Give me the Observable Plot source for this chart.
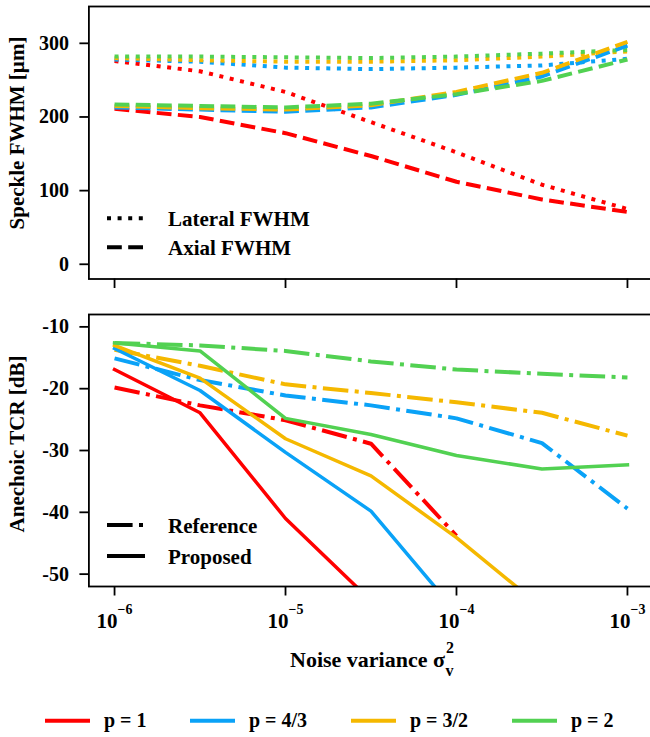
<!DOCTYPE html>
<html><head><meta charset="utf-8">
<script src="https://cdn.jsdelivr.net/npm/d3@7"></script>
<script src="https://cdn.jsdelivr.net/npm/@observablehq/plot@0.6"></script>
<style>
body{margin:0;background:#fff;}
#wrap{position:relative;width:650px;height:737px;overflow:hidden;background:#fff;}
#wrap svg{position:absolute;left:0;max-width:none !important;}
</style></head><body><div id="wrap"></div>
<script>
// ---- data ----
const noise = [1e-6, 3.162e-6, 1e-5, 3.162e-5, 1e-4, 3.162e-4, 1e-3];
const pLabels = ["p = 1", "p = 4/3", "p = 3/2", "p = 2"];
const colors = ["#ff0000", "#0aa2f7", "#f5b800", "#52d152"];
const xTicks = [1e-6, 1e-5, 1e-4, 1e-3];
const fwhmTicks = [0, 100, 200, 300];
const tcrTicks = [-10, -20, -30, -40, -50];

// Lateral FWHM [µm]
const lateral_p1  = [276, 262, 234, 193, 152, 108, 75];
const lateral_p43 = [278, 275, 267, 265, 267, 270, 279];
const lateral_p32 = [280, 277, 275, 275, 277, 282, 289];
const lateral_p2  = [282, 282, 281, 280, 282, 286, 291];
// Axial FWHM [µm]
const axial_p1  = [211, 200, 178, 147, 112, 88, 71];
const axial_p43 = [213, 210, 207, 213, 230, 255, 297];
const axial_p32 = [215, 212, 210, 216, 234, 260, 302];
const axial_p2  = [217, 215, 213, 218, 231, 249, 278];
// Anechoic TCR [dB] - Reference
const ref_p1  = [-19.8, -22.7, -25.1, -28.9, -43.8];
const ref_p43 = [-15.1, -18.6, -21.1, -22.7, -24.8, -28.8, -39.4];
const ref_p32 = [-13.7, -16.3, -19.3, -20.7, -22.2, -23.9, -27.6];
const ref_p2  = [-12.6, -13.0, -13.9, -15.6, -16.9, -17.6, -18.2];
// Anechoic TCR [dB] - Proposed
const prop_p1  = [-16.9, -23.9, -41.0, -54.3];
const prop_p43 = [-13.5, -20.3, -30.3, -39.8, -56.2];
const prop_p32 = [-13.0, -18.3, -28.1, -34.1, -44.1, -55.4];
const prop_p2  = [-12.6, -13.9, -24.8, -27.4, -30.8, -33.0, -32.3];

function rows(seriesList) {
  const out = [];
  seriesList.forEach((vals, i) => vals.forEach((v, j) => out.push({x: noise[j], y: v, p: pLabels[i]})));
  return out;
}
const lateralRows = rows([lateral_p1, lateral_p43, lateral_p32, lateral_p2]);
const axialRows = rows([axial_p1, axial_p43, axial_p32, axial_p2]);
const refRows = rows([ref_p1, ref_p43, ref_p32, ref_p2]);
const propRows = rows([prop_p1, prop_p43, prop_p32, prop_p2]);

const FONT = '"Liberation Serif","Times New Roman",serif';
const common = {
  width: 660, marginLeft: 88.4, marginRight: 7.4,
  x: {type: "log", domain: [10 ** -6.15, 10 ** -2.85]},
  color: {domain: pLabels, range: colors},
  style: {fontFamily: FONT, fontWeight: "bold", fontSize: "20px", background: "transparent", color: "black", maxWidth: "none"}
};
const ns = "http://www.w3.org/2000/svg";
const wrap = document.getElementById("wrap");

const topPlot = Plot.plot({
  ...common,
  height: 300, marginTop: 6, marginBottom: 21.5,
  y: {domain: [-20, 350]},
  marks: [
    Plot.axisY({ticks: fwhmTicks, tickSize: 9, tickPadding: 11, strokeWidth: 1.8, fontSize: 20, fontWeight: "bold", label: null}),
    Plot.axisX({ticks: xTicks, tickSize: 9.5, strokeWidth: 1.8, tickFormat: () => "", label: null}),
    Plot.line(lateralRows, {x: "x", y: "y", z: "p", stroke: "p", strokeWidth: 4, strokeDasharray: "4,6.6", strokeLinecap: "butt", strokeLinejoin: "round", clip: true}),
    Plot.line(axialRows, {x: "x", y: "y", z: "p", stroke: "p", strokeWidth: 4, strokeDasharray: "14.8,6.4", strokeLinecap: "butt", strokeLinejoin: "round", clip: true}),
    Plot.frame({stroke: "black", strokeWidth: 1.8})
  ]
});
topPlot.style.top = "0px";
topPlot.style.maxWidth = "none";
wrap.appendChild(topPlot);

const botPlot = Plot.plot({
  ...common,
  height: 340, marginTop: 14, marginBottom: 54,
  y: {domain: [-52, -8]},
  marks: [
    Plot.axisY({ticks: tcrTicks, tickSize: 9, tickPadding: 11, strokeWidth: 1.8, fontSize: 20, fontWeight: "bold", tickFormat: d => String(d), label: null}),
    Plot.axisX({ticks: xTicks, tickSize: 9.5, tickPadding: 31.5, strokeWidth: 1.8, fontSize: 21, fontWeight: "bold", tickFormat: d => "10^" + Math.round(Math.log10(d)), label: null}),
    Plot.line(refRows, {x: "x", y: "y", z: "p", stroke: "p", strokeWidth: 4, strokeDasharray: "25.6,6.4,4,6.4", strokeLinecap: "butt", strokeLinejoin: "round", clip: true}),
    Plot.line(propRows, {x: "x", y: "y", z: "p", stroke: "p", strokeWidth: 3.5, strokeLinecap: "square", strokeLinejoin: "round", clip: true}),
    Plot.frame({stroke: "black", strokeWidth: 1.8})
  ]
});
botPlot.style.top = "300px";
botPlot.style.maxWidth = "none";
wrap.appendChild(botPlot);

// superscript tick labels 10^-n
botPlot.querySelectorAll('g[aria-label="x-axis tick label"] text').forEach(t => {
  const e = t.textContent.split("^")[1].replace("-", "\u2212");
  t.removeAttribute("y");
  t.textContent = "";
  const a = document.createElementNS(ns, "tspan"); a.textContent = "10";
  const b = document.createElementNS(ns, "tspan"); b.textContent = e;
  b.setAttribute("dy", "-14"); b.setAttribute("font-size", "14");
  t.append(a, b);
});

// ---- overlay: labels and legends ----
const ov = document.createElementNS(ns, "svg");
ov.setAttribute("width", 650); ov.setAttribute("height", 737);
ov.style.top = "0px";
ov.setAttribute("font-family", FONT); ov.setAttribute("font-weight", "bold");
wrap.appendChild(ov);
function txt(s, x, y, size, extra = {}) {
  const t = document.createElementNS(ns, "text");
  t.setAttribute("x", x); t.setAttribute("y", y); t.setAttribute("font-size", size);
  for (const k in extra) t.setAttribute(k, extra[k]);
  t.textContent = s; ov.appendChild(t); return t;
}
function seg(x1, x2, y, color, dash, w = 4) {
  const l = document.createElementNS(ns, "line");
  l.setAttribute("x1", x1); l.setAttribute("x2", x2); l.setAttribute("y1", y); l.setAttribute("y2", y);
  l.setAttribute("stroke", color); l.setAttribute("stroke-width", w);
  if (dash) l.setAttribute("stroke-dasharray", dash);
  ov.appendChild(l);
}
// y labels
txt("Speckle FWHM [\u00b5m]", 0, 0, 21, {"text-anchor": "middle", transform: "translate(24,133) rotate(-90)"});
txt("Anechoic TCR [dB]", 0, 0, 21, {"text-anchor": "middle", transform: "translate(24,444) rotate(-90)"});
// x label
const xl = txt("Noise variance \u03c3", 290, 667, 22);
const s2 = document.createElementNS(ns, "tspan"); s2.textContent = "2"; s2.setAttribute("font-size", 16); s2.setAttribute("dy", -14); s2.setAttribute("dx", 1);
const sv = document.createElementNS(ns, "tspan"); sv.textContent = "v"; sv.setAttribute("font-size", 16); sv.setAttribute("dx", -8.5); sv.setAttribute("dy", 23);
xl.append(s2, sv);
// inner legends
const lineStyles = ["Lateral FWHM", "Axial FWHM", "Reference", "Proposed"];
seg(107, 145, 218.3, "black", "4,6.6");
txt(lineStyles[0], 168, 226, 21);
seg(107, 145, 247.3, "black", "14.8,6.4");
txt(lineStyles[1], 168, 255, 21);
seg(107, 145, 525, "black", "25.6,6.4,4,6.4");
txt(lineStyles[2], 168, 532.5, 21);
seg(107, 145, 556, "black", null);
txt(lineStyles[3], 168, 563.5, 21);
// bottom legend
const legX = [45, 190, 351, 512];
pLabels.forEach((p, i) => {
  seg(legX[i], legX[i] + 45, 720.7, colors[i], null);
  txt(p, legX[i] + 59, 727, 20);
});
</script></body></html>
